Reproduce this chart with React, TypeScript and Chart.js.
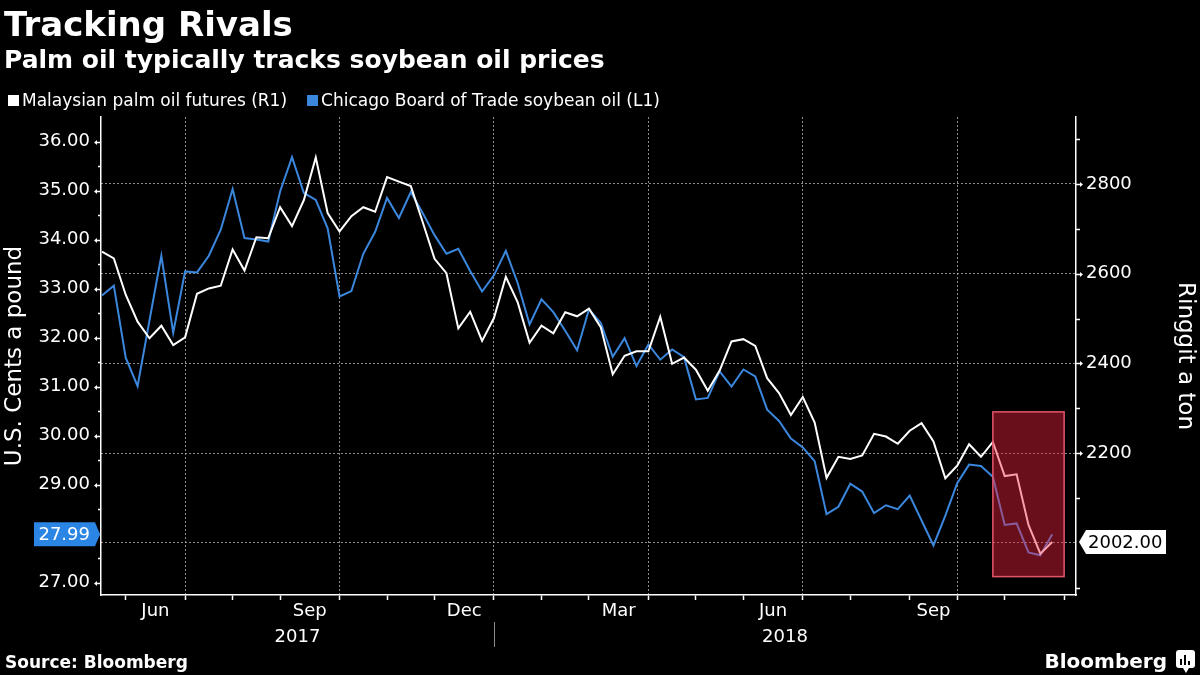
import React, { useEffect, useRef } from 'react';
import { Chart, registerables } from 'chart.js';

Chart.register(...registerables);

// Weekly (Friday) closes, 19 May 2017 -> 30 Nov 2018; x value = week number from the first close
const palmOilRinggit = [
  2649, 2634, 2553, 2493, 2456, 2484, 2441, 2458, 2555, 2567,
  2573, 2654, 2607, 2681, 2679, 2748, 2706, 2764, 2859, 2735,
  2694, 2728, 2748, 2738, 2815, 2805, 2795, 2715, 2633, 2601,
  2478, 2515, 2450, 2501, 2593, 2536, 2446, 2484, 2467, 2514,
  2505, 2522, 2480, 2376, 2417, 2427, 2427, 2504, 2399, 2413,
  2386, 2339, 2384, 2449, 2454, 2439, 2367, 2334, 2285, 2325,
  2268, 2145, 2192, 2187, 2195, 2243, 2237, 2221, 2250, 2267,
  2226, 2144, 2172, 2220, 2192, 2225, 2149, 2153, 2040, 1976,
  2002,
];
const soyOilCents = [
  32.86, 33.06, 31.59, 31.01, 32.35, 33.67, 32.10, 33.35, 33.33, 33.67,
  34.20, 35.03, 34.03, 34.00, 33.96, 34.98, 35.68, 34.95, 34.81, 34.23,
  32.84, 32.95, 33.71, 34.16, 34.85, 34.44, 34.97, 34.54, 34.09, 33.71,
  33.81, 33.36, 32.94, 33.27, 33.77, 33.11, 32.27, 32.78, 32.52, 32.14,
  31.74, 32.58, 32.30, 31.61, 31.99, 31.42, 31.86, 31.55, 31.76, 31.60,
  30.74, 30.77, 31.31, 31.00, 31.35, 31.21, 30.53, 30.30, 29.94, 29.76,
  29.48, 28.40, 28.55, 29.02, 28.86, 28.42, 28.58, 28.50, 28.78, 28.27,
  27.76, 28.37, 29.03, 29.41, 29.38, 29.16, 28.18, 28.21, 27.62, 27.56,
  27.99,
];

const palmLabel = 'Malaysian palm oil futures (R1)';
const soyLabel = 'Chicago Board of Trade soybean oil (L1)';

// week numbers of the first Friday of each month, Jun 2017 ... Dec 2018
const monthStartWeeks = [2, 7, 11, 15, 20, 24, 28, 33, 37, 41, 46, 50, 54, 59, 63, 68, 72, 76, 81];
const quarterStartWeeks = [7, 20, 33, 46, 59, 72];
const monthLabelWeeks = [4.5, 17.5, 30.5, 43.5, 56.5, 70];
const monthLabels = ['Jun', 'Sep', 'Dec', 'Mar', 'Jun', 'Sep'];
const yearLabels = ['2017', '2018'];
const yearBoundaryWeek = 33;

const leftTicks = [27, 28, 29, 30, 31, 32, 33, 34, 35, 36];
const leftMinorTicks = [27.5, 28.5, 29.5, 30.5, 31.5, 32.5, 33.5, 34.5, 35.5];
const leftHiddenLabel = 28;
const rightTicks = [2200, 2400, 2600, 2800];
const rightMinorTicks = [1900, 2100, 2300, 2500, 2700, 2900];

const xRange = [-0.08, 82];
const leftRange = [26.75, 36.5];
const rightRange = [1884, 2949];

// highlighted period (week numbers) and its height in ringgit
const highlightWeeks = [75, 81];
const highlightRinggit = [1925, 2292];

const FONT = '"DejaVu Sans", sans-serif';
const GRID = 'rgba(175,175,175,0.8)';
const BLUE = '#3a87dd';

const lastSoy = soyOilCents[soyOilCents.length - 1];
const lastPalm = palmOilRinggit[palmOilRinggit.length - 1];

const decor = {
  id: 'decor',
  beforeDraw(chart: any) {
    const { ctx, width, height } = chart;
    ctx.save();
    ctx.fillStyle = '#000';
    ctx.fillRect(0, 0, width, height);
    ctx.restore();
  },
  afterDatasetsDraw(chart: any) {
    const { ctx } = chart;
    const x = chart.scales.x;
    const yR = chart.scales.yR;
    const x0 = x.getPixelForValue(highlightWeeks[0]);
    const x1 = x.getPixelForValue(highlightWeeks[1]);
    const y0 = yR.getPixelForValue(highlightRinggit[1]);
    const y1 = yR.getPixelForValue(highlightRinggit[0]);
    ctx.save();
    ctx.fillStyle = 'rgba(244,35,65,0.43)';
    ctx.fillRect(x0, y0, x1 - x0, y1 - y0);
    ctx.strokeStyle = '#e4566c';
    ctx.lineWidth = 1.5;
    ctx.strokeRect(x0, y0, x1 - x0, y1 - y0);
    ctx.restore();
  },
  afterDraw(chart: any) {
    const { ctx, chartArea } = chart;
    const x = chart.scales.x;
    const yL = chart.scales.yL;
    const yR = chart.scales.yR;
    ctx.save();

    // header
    ctx.fillStyle = '#fff';
    ctx.textAlign = 'left';
    ctx.textBaseline = 'alphabetic';
    ctx.font = `bold 34px ${FONT}`;
    ctx.fillText('Tracking Rivals', 4, 36);
    ctx.font = `bold 25px ${FONT}`;
    ctx.fillText('Palm oil typically tracks soybean oil prices', 4, 68);

    // legend
    ctx.font = `17px ${FONT}`;
    let lx = 8;
    const items = [
      { label: palmLabel, color: '#fff' },
      { label: soyLabel, color: BLUE },
    ];
    items.forEach((it) => {
      ctx.fillStyle = it.color;
      ctx.fillRect(lx, 95, 11, 11);
      ctx.fillStyle = '#fff';
      ctx.fillText(it.label, lx + 14, 106);
      lx += 14 + ctx.measureText(it.label).width + 20;
    });

    // left axis tick marks
    ctx.strokeStyle = '#fff';
    ctx.fillStyle = '#fff';
    ctx.lineWidth = 1.5;
    const lr = yL.right;
    leftTicks.forEach((v) => {
      const y = Math.round(yL.getPixelForValue(v)) + 0.5;
      ctx.beginPath();
      ctx.moveTo(lr - 4, y);
      ctx.lineTo(lr, y);
      ctx.stroke();
      ctx.beginPath();
      ctx.moveTo(lr - 7, y);
      ctx.lineTo(lr - 4, y - 2.5);
      ctx.lineTo(lr - 4, y + 2.5);
      ctx.closePath();
      ctx.fill();
    });
    leftMinorTicks.forEach((v) => {
      const y = Math.round(yL.getPixelForValue(v)) + 0.5;
      ctx.beginPath();
      ctx.moveTo(lr - 3, y);
      ctx.lineTo(lr, y);
      ctx.stroke();
    });
    // right axis tick marks
    const rl = yR.left;
    rightTicks.forEach((v) => {
      const y = Math.round(yR.getPixelForValue(v)) + 0.5;
      ctx.beginPath();
      ctx.moveTo(rl, y);
      ctx.lineTo(rl + 4, y);
      ctx.stroke();
      ctx.beginPath();
      ctx.moveTo(rl + 7, y);
      ctx.lineTo(rl + 4, y - 2.5);
      ctx.lineTo(rl + 4, y + 2.5);
      ctx.closePath();
      ctx.fill();
    });
    rightMinorTicks.forEach((v) => {
      const y = Math.round(yR.getPixelForValue(v)) + 0.5;
      ctx.beginPath();
      ctx.moveTo(rl, y);
      ctx.lineTo(rl + 4, y);
      ctx.stroke();
    });

    // last value labels
    ctx.font = `18px ${FONT}`;
    ctx.textBaseline = 'middle';
    const ys = yL.getPixelForValue(lastSoy);
    ctx.fillStyle = '#2b85e4';
    ctx.beginPath();
    ctx.moveTo(lr - 67, ys - 12);
    ctx.lineTo(lr - 6, ys - 12);
    ctx.lineTo(lr - 1, ys);
    ctx.lineTo(lr - 6, ys + 12);
    ctx.lineTo(lr - 67, ys + 12);
    ctx.closePath();
    ctx.fill();
    ctx.fillStyle = '#fff';
    ctx.textAlign = 'right';
    ctx.fillText(lastSoy.toFixed(2), lr - 11, ys + 1);

    const yp = yR.getPixelForValue(lastPalm);
    ctx.fillStyle = '#fff';
    ctx.beginPath();
    ctx.moveTo(rl + 3, yp);
    ctx.lineTo(rl + 10, yp - 12);
    ctx.lineTo(rl + 90, yp - 12);
    ctx.lineTo(rl + 90, yp + 12);
    ctx.lineTo(rl + 10, yp + 12);
    ctx.closePath();
    ctx.fill();
    ctx.fillStyle = '#000';
    ctx.textAlign = 'left';
    ctx.fillText(lastPalm.toFixed(2), rl + 12, yp + 1);

    // year labels and separator
    const xb = x.getPixelForValue(yearBoundaryWeek);
    ctx.fillStyle = '#fff';
    ctx.textAlign = 'center';
    ctx.textBaseline = 'alphabetic';
    ctx.fillText(yearLabels[0], (chartArea.left + xb) / 2, 642);
    ctx.fillText(yearLabels[1], (xb + chartArea.right) / 2, 642);
    ctx.strokeStyle = '#8a8a8a';
    ctx.lineWidth = 1;
    ctx.beginPath();
    ctx.moveTo(Math.round(xb) + 0.5, 622);
    ctx.lineTo(Math.round(xb) + 0.5, 647);
    ctx.stroke();

    // footer
    ctx.fillStyle = '#fff';
    ctx.textAlign = 'left';
    ctx.font = `bold 17px ${FONT}`;
    ctx.fillText('Source: Bloomberg', 5, 668);
    ctx.textAlign = 'right';
    ctx.font = `bold 20px ${FONT}`;
    ctx.fillText('Bloomberg', 1167, 668);
    // small logo mark
    ctx.beginPath();
    ctx.roundRect(1176, 650, 19, 18, 3);
    ctx.fill();
    ctx.beginPath();
    ctx.moveTo(1183, 668);
    ctx.lineTo(1186, 673);
    ctx.lineTo(1189, 668);
    ctx.fill();
    ctx.fillStyle = '#000';
    ctx.fillRect(1180, 659, 2, 6);
    ctx.fillRect(1184, 655, 2, 10);
    ctx.fillRect(1188, 661, 2, 4);
    ctx.restore();
  },
};

export default function App() {
  const ref = useRef<HTMLCanvasElement | null>(null);

  useEffect(() => {
    const canvas = ref.current;
    if (!canvas) return;
    const labelAt = new Map<number, string>();
    monthLabelWeeks.forEach((w, i) => labelAt.set(w, monthLabels[i]));

    const chart = new Chart(canvas, {
      type: 'line',
      data: {
        datasets: [
          {
            label: palmLabel,
            data: palmOilRinggit.map((v, i) => ({ x: i, y: v })),
            yAxisID: 'yR',
            borderColor: '#ffffff',
            borderWidth: 2,
            pointRadius: 0,
            tension: 0,
          },
          {
            label: soyLabel,
            data: soyOilCents.map((v, i) => ({ x: i, y: v })),
            yAxisID: 'yL',
            borderColor: BLUE,
            borderWidth: 2,
            pointRadius: 0,
            tension: 0,
          },
        ],
      },
      options: {
        responsive: false,
        animation: false,
        devicePixelRatio: 1,
        layout: { padding: { top: 117, left: 0, right: 0, bottom: 0 } },
        plugins: {
          legend: { display: false },
          tooltip: { enabled: false },
          title: { display: false },
        },
        scales: {
          x: {
            type: 'linear',
            min: xRange[0],
            max: xRange[1],
            afterBuildTicks: (s: any) => {
              s.ticks = [...monthStartWeeks, ...monthLabelWeeks].map((v) => ({ value: v }));
            },
            afterFit: (s: any) => {
              s.height = 80;
            },
            grid: {
              color: (c: any) => (quarterStartWeeks.includes(c.tick?.value) ? GRID : 'rgba(0,0,0,0)'),
              tickColor: (c: any) => (monthStartWeeks.includes(c.tick?.value) ? '#fff' : 'rgba(0,0,0,0)'),
              lineWidth: 1,
              tickWidth: 1.5,
              tickLength: 5,
              drawTicks: true,
            },
            border: { color: '#fff', width: 1.5, dash: [2, 2] },
            ticks: {
              autoSkip: false,
              maxRotation: 0,
              minRotation: 0,
              padding: 1,
              color: '#fff',
              font: { family: FONT, size: 18 },
              callback: (v: any) => labelAt.get(Number(v)) ?? '',
            },
          },
          yL: {
            type: 'linear',
            position: 'left',
            min: leftRange[0],
            max: leftRange[1],
            afterBuildTicks: (s: any) => {
              s.ticks = [...leftTicks, ...leftMinorTicks].map((v) => ({ value: v }));
            },
            afterFit: (s: any) => {
              s.width = 101;
            },
            grid: { drawOnChartArea: false, drawTicks: false },
            border: { color: '#fff', width: 1.5 },
            ticks: {
              autoSkip: false,
              padding: 11,
              color: '#fff',
              font: { family: FONT, size: 18 },
              callback: (v: any) =>
                leftTicks.includes(Number(v)) && Number(v) !== leftHiddenLabel ? Number(v).toFixed(2) : '',
            },
            title: {
              display: true,
              text: 'U.S. Cents a pound',
              color: '#fff',
              font: { family: FONT, size: 23 },
              padding: { top: 1, bottom: 0 },
            },
          },
          yR: {
            type: 'linear',
            position: 'right',
            min: rightRange[0],
            max: rightRange[1],
            afterBuildTicks: (s: any) => {
              s.ticks = [...rightTicks, lastPalm, ...rightMinorTicks].map((v) => ({ value: v }));
            },
            afterFit: (s: any) => {
              s.width = 124;
            },
            grid: {
              drawTicks: false,
              lineWidth: 1,
              color: (c: any) =>
                rightTicks.includes(c.tick?.value) || c.tick?.value === lastPalm ? GRID : 'rgba(0,0,0,0)',
            },
            border: { color: '#fff', width: 1.5, dash: [2, 2] },
            ticks: {
              autoSkip: false,
              padding: 10,
              color: '#fff',
              font: { family: FONT, size: 18 },
              callback: (v: any) => (rightTicks.includes(Number(v)) ? String(v) : ''),
            },
            title: {
              display: true,
              text: 'Ringgit a ton',
              color: '#fff',
              font: { family: FONT, size: 23 },
              padding: { top: 1, bottom: 0 },
            },
          },
        },
      },
      plugins: [decor],
    } as any);

    return () => chart.destroy();
  }, []);

  return (
    <div
      style={{
        position: 'fixed',
        left: 0,
        top: 0,
        width: 1200,
        height: 675,
        background: '#000',
      }}
    >
      <canvas ref={ref} width={1200} height={675} style={{ display: 'block' }} />
    </div>
  );
}
